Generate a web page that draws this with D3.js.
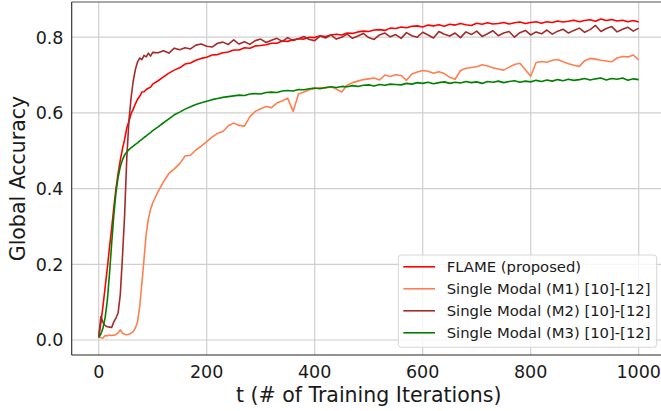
<!DOCTYPE html>
<html>
<head>
<meta charset="utf-8">
<script src="https://cdn.jsdelivr.net/npm/d3@7"></script>
<style>
  body { margin: 0; background: #fff; }
  text { font-family: "DejaVu Sans", sans-serif; fill: #1a1a1a; }
  .grid line { stroke: #cfcfcf; stroke-width: 1.2; }
  .series { fill: none; stroke-width: 1.6; stroke-linejoin: round; }
</style>
</head>
<body>
<div id="chart"></div>
<script>
// training iterations the curves were read at
const iterations = [
  0, 4, 8, 12, 16, 20, 24, 28, 32, 36, 40, 44, 48, 52, 56, 60, 64, 68, 72, 76, 80, 84, 88, 92, 96, 100,
  110, 120, 130, 140, 150, 160, 170, 180, 190, 200, 210, 220, 230, 240, 250, 260, 270, 280, 290, 300,
  310, 320, 330, 340, 350, 360, 370, 380, 390, 400, 410, 420, 430, 440, 450, 460, 470, 480, 490, 500,
  510, 520, 530, 540, 550, 560, 570, 580, 590, 600, 610, 620, 630, 640, 650, 660, 670, 680, 690, 700,
  710, 720, 730, 740, 750, 760, 770, 780, 790, 800, 810, 820, 830, 840, 850, 860, 870, 880, 890, 900,
  910, 920, 930, 940, 950, 960, 970, 980, 990, 1000
];

const flame = [
  0.007, 0.045, 0.09, 0.14, 0.19, 0.245, 0.295, 0.35, 0.40, 0.44, 0.475, 0.505, 0.53, 0.56, 0.578, 0.598, 0.61, 0.624, 0.636, 0.644, 0.655, 0.656, 0.662, 0.665, 0.668, 0.676,
  0.685, 0.695, 0.705, 0.713, 0.719, 0.729, 0.732, 0.739, 0.744, 0.747, 0.753, 0.754, 0.759, 0.761, 0.766, 0.766, 0.772, 0.771, 0.777, 0.778,
  0.780, 0.784, 0.784, 0.790, 0.789, 0.793, 0.796, 0.795, 0.800, 0.799, 0.804, 0.802, 0.806, 0.808, 0.806, 0.811, 0.810, 0.814, 0.816, 0.815,
  0.819, 0.820, 0.818, 0.824, 0.823, 0.827, 0.825, 0.829, 0.830, 0.827, 0.832, 0.830, 0.833, 0.829, 0.834, 0.832, 0.836, 0.833, 0.831, 0.837,
  0.834, 0.838, 0.835, 0.836, 0.839, 0.835, 0.838, 0.840, 0.836, 0.839, 0.841, 0.837, 0.841, 0.839, 0.843, 0.840, 0.842, 0.845, 0.841, 0.844,
  0.846, 0.842, 0.848, 0.844, 0.847, 0.843, 0.845, 0.841, 0.844, 0.840
];

const modalM1 = [
  0.009, 0.006, 0.005, 0.012, 0.011, 0.013, 0.012, 0.013, 0.014, 0.019, 0.027, 0.018, 0.015, 0.014, 0.015, 0.018, 0.022, 0.032, 0.048, 0.09, 0.15, 0.215, 0.28, 0.32, 0.345, 0.362,
  0.392, 0.418, 0.440, 0.452, 0.466, 0.486, 0.488, 0.502, 0.512, 0.524, 0.536, 0.546, 0.551, 0.566, 0.573, 0.567, 0.565, 0.590, 0.604, 0.611,
  0.617, 0.614, 0.626, 0.632, 0.639, 0.604, 0.650, 0.655, 0.661, 0.664, 0.667, 0.665, 0.669, 0.663, 0.655, 0.673, 0.680, 0.684, 0.688, 0.690,
  0.692, 0.687, 0.700, 0.696, 0.701, 0.699, 0.686, 0.703, 0.708, 0.712, 0.710, 0.705, 0.709, 0.704, 0.694, 0.689, 0.712, 0.718, 0.720, 0.722,
  0.727, 0.724, 0.719, 0.716, 0.713, 0.721, 0.728, 0.731, 0.714, 0.697, 0.733, 0.736, 0.734, 0.739, 0.741, 0.735, 0.730, 0.726, 0.723, 0.738,
  0.744, 0.742, 0.739, 0.737, 0.735, 0.745, 0.749, 0.748, 0.753, 0.740
];

const modalM2 = [
  0.007, 0.062, 0.046, 0.038, 0.035, 0.034, 0.033, 0.048, 0.058, 0.072, 0.12, 0.22, 0.33, 0.48, 0.58, 0.64, 0.685, 0.715, 0.735, 0.745, 0.741, 0.752, 0.748, 0.758, 0.750, 0.760,
  0.759, 0.764, 0.758, 0.771, 0.767, 0.772, 0.769, 0.779, 0.782, 0.776, 0.774, 0.784, 0.787, 0.781, 0.793, 0.782, 0.788, 0.781, 0.791, 0.795,
  0.786, 0.792, 0.797, 0.789, 0.799, 0.791, 0.796, 0.802, 0.794, 0.791, 0.803, 0.798, 0.806, 0.795, 0.800, 0.808, 0.797, 0.803, 0.810, 0.799,
  0.794, 0.806, 0.811, 0.801, 0.807, 0.797, 0.812, 0.804, 0.800, 0.813, 0.806, 0.798, 0.815, 0.808, 0.803, 0.811, 0.799, 0.814, 0.807, 0.816,
  0.802, 0.809, 0.817, 0.804, 0.811, 0.815, 0.800, 0.812, 0.818, 0.806, 0.814, 0.809, 0.819, 0.808, 0.816, 0.821, 0.811, 0.818, 0.824, 0.813,
  0.820, 0.831, 0.815, 0.823, 0.828, 0.814, 0.821, 0.826, 0.816, 0.824
];

const modalM3 = [
  0.007, 0.016, 0.032, 0.06, 0.105, 0.175, 0.255, 0.33, 0.39, 0.43, 0.458, 0.476, 0.489, 0.497, 0.503, 0.508, 0.512, 0.517, 0.521, 0.526, 0.530, 0.535, 0.539, 0.544, 0.548, 0.553,
  0.563, 0.574, 0.584, 0.595, 0.602, 0.610, 0.616, 0.622, 0.627, 0.631, 0.635, 0.638, 0.641, 0.643, 0.645, 0.647, 0.646, 0.650, 0.651, 0.650,
  0.654, 0.655, 0.654, 0.658, 0.659, 0.658, 0.662, 0.661, 0.664, 0.666, 0.664, 0.667, 0.669, 0.667, 0.670, 0.669, 0.672, 0.670, 0.673, 0.674,
  0.671, 0.675, 0.673, 0.676, 0.675, 0.674, 0.678, 0.676, 0.680, 0.678, 0.681, 0.677, 0.680, 0.682, 0.678, 0.681, 0.679, 0.683, 0.680, 0.682,
  0.678, 0.683, 0.681, 0.684, 0.680, 0.683, 0.685, 0.681, 0.684, 0.682, 0.686, 0.683, 0.687, 0.684, 0.688, 0.685, 0.689, 0.686, 0.688, 0.691,
  0.687, 0.690, 0.692, 0.687, 0.691, 0.689, 0.692, 0.686, 0.690, 0.688
];

const seriesNames = [
  "FLAME (proposed)",
  "Single Modal (M1) [10]-[12]",
  "Single Modal (M2) [10]-[12]",
  "Single Modal (M3) [10]-[12]"
];
const seriesColors = ["#ff0000", "#ff7f50", "#a52a2a", "#008000"];
const xTicks = [0, 200, 400, 600, 800, 1000];
const yTicks = [0.0, 0.2, 0.4, 0.6, 0.8];

class AccuracyChart {
  constructor(props) {
    this.container = props.container;
    this.series = props.series;
    this.svgWidth = 661;
    this.svgHeight = 411;
    // plot area (right edge sits just past the picture, like the source)
    this.area = { left: 71.7, right: 665.7, top: 2, bottom: 355 };
    this.render();
  }

  render() {
    const a = this.area;
    const svg = d3
      .select(this.container)
      .append("svg")
      .attr("width", this.svgWidth)
      .attr("height", this.svgHeight);

    const x = d3.scaleLinear().domain([-50, 1050]).range([a.left, a.right]);
    const y = d3.scaleLinear().domain([-0.0396, 0.893]).range([a.bottom, a.top]);

    // grid
    const grid = svg.append("g").attr("class", "grid");
    grid
      .selectAll(".gx")
      .data(xTicks)
      .join("line")
      .attr("x1", (d) => x(d))
      .attr("x2", (d) => x(d))
      .attr("y1", a.top)
      .attr("y2", a.bottom);
    grid
      .selectAll(".gy")
      .data(yTicks)
      .join("line")
      .attr("x1", a.left)
      .attr("x2", a.right)
      .attr("y1", (d) => y(d))
      .attr("y2", (d) => y(d));

    // curves
    const line = d3
      .line()
      .x((d) => x(d.t))
      .y((d) => y(d.v));
    svg
      .append("g")
      .selectAll("path")
      .data(this.series)
      .join("path")
      .attr("class", "series")
      .attr("stroke", (d) => d.color)
      .attr("d", (d) => line(iterations.map((t, i) => ({ t: t, v: d.values[i] }))));

    // spines
    svg.append("line").attr("x1", a.left).attr("x2", a.right).attr("y1", a.top).attr("y2", a.top)
      .attr("stroke", "#8a8a8a").attr("stroke-width", 1.5);
    svg.append("line").attr("x1", a.left).attr("x2", a.left).attr("y1", a.top).attr("y2", a.bottom)
      .attr("stroke", "#262626").attr("stroke-width", 1.1);
    svg.append("line").attr("x1", a.left).attr("x2", a.right).attr("y1", a.bottom).attr("y2", a.bottom)
      .attr("stroke", "#262626").attr("stroke-width", 1.1);

    // tick labels
    svg
      .append("g")
      .selectAll("text")
      .data(xTicks)
      .join("text")
      .attr("x", (d) => x(d))
      .attr("y", 377.5)
      .attr("text-anchor", "middle")
      .style("font-size", "17.5px")
      .text((d) => d);
    svg
      .append("g")
      .selectAll("text")
      .data(yTicks)
      .join("text")
      .attr("x", 63.5)
      .attr("y", (d) => y(d) + 6.3)
      .attr("text-anchor", "end")
      .style("font-size", "17.5px")
      .text((d) => d3.format(".1f")(d));

    // axis labels
    svg
      .append("text")
      .attr("x", (a.left + a.right) / 2)
      .attr("y", 401.5)
      .attr("text-anchor", "middle")
      .style("font-size", "20.5px")
      .text("t (# of Training Iterations)");
    svg
      .append("text")
      .attr("transform", `translate(24.5, ${(a.top + a.bottom) / 2}) rotate(-90)`)
      .attr("text-anchor", "middle")
      .style("font-size", "20.5px")
      .text("Global Accuracy");

    this.renderLegend(svg);
  }

  renderLegend(svg) {
    const legendG = svg.append("g").attr("class", "legend");
    legendG
      .append("rect")
      .attr("x", 398.3)
      .attr("y", 255)
      .attr("width", 258.4)
      .attr("height", 92.3)
      .attr("rx", 3)
      .attr("fill", "#fff")
      .attr("fill-opacity", 0.8)
      .attr("stroke", "#d6d6d6");
    const row = legendG
      .selectAll(".legend-row")
      .data(this.series)
      .join("g")
      .attr("class", "legend-row")
      .attr("transform", (d, i) => `translate(0, ${266.8 + i * 22})`);
    row
      .append("line")
      .attr("x1", 403.3)
      .attr("x2", 435)
      .attr("stroke", (d) => d.color)
      .attr("stroke-width", 1.6);
    row
      .append("text")
      .attr("x", 446.7)
      .attr("y", 5.2)
      .style("font-size", "14.8px")
      .text((d) => d.name);
  }
}

new AccuracyChart({
  container: "#chart",
  series: [flame, modalM1, modalM2, modalM3].map((values, i) => ({
    name: seriesNames[i],
    color: seriesColors[i],
    values: values
  }))
});
</script>
</body>
</html>
